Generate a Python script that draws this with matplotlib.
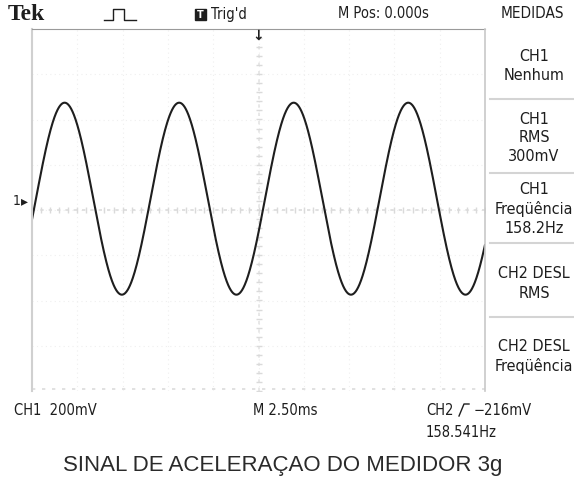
import numpy as np
import matplotlib
matplotlib.use("Agg")
import matplotlib.pyplot as plt
from matplotlib.lines import Line2D
from matplotlib.patches import Rectangle
from matplotlib import font_manager

# scope settings and measurements
ch1_volts_div = 0.200      # V/div
time_div = 2.50            # ms/div
ch1_position = 0.25        # div above the centre line
ch1_freq = 158.2           # Hz
ch1_rms = 0.300            # V
t_first_peak = -10.70      # ms, first crest on the screen
n_div_x, n_div_y = 10, 8

menu_boxes = [
    (["CH1", "Nenhum"], [57, 76]),
    (["CH1", "RMS", "300mV"], [119, 138, 157]),
    (["CH1", "Freqüência", "158.2Hz"], [190, 209, 229]),
    (["CH2 DESL", "RMS"], [274, 294]),
    (["CH2 DESL", "Freqüência"], [347, 366]),
]
menu_lines = [100, 174, 244, 318]

W, H = 574, 481
fig = plt.figure(figsize=(W / 100, H / 100), dpi=100)
fig.patch.set_facecolor("white")

def px(x, y):
    return x / W, 1 - y / H

names = {f.name for f in font_manager.fontManager.ttflist}
narrow = ["Liberation Sans Narrow"] if "Liberation Sans Narrow" in names else ["DejaVu Sans"]
narrow = narrow + ["DejaVu Sans", "Noto Sans CJK JP"]
ink = "#1e1e1e"

def label(x, y, s, size=10.5, **kw):
    kw.setdefault("va", "center")
    return fig.text(*px(x, y), s, fontsize=size, family=narrow,
                    fontstretch="condensed", color=ink, **kw)

def fig_line(xs, ys, **kw):
    fig.add_artist(Line2D([x / W for x in xs], [1 - y / H for y in ys], **kw))

# screen area
x0, y0, x1, y1 = 32, 30, 485, 392
ax = fig.add_axes([x0 / W, 1 - y1 / H, (x1 - x0) / W, (y1 - y0) / H])
ax.set_xlim(-n_div_x / 2 * time_div, n_div_x / 2 * time_div)
ax.set_ylim(-n_div_y / 2, n_div_y / 2)
ax.set_xticks([]); ax.set_yticks([])
for s in ax.spines.values():
    s.set_visible(False)
ax.spines["top"].set_visible(True)
ax.spines["top"].set_color("#9a9a9a")
ax.spines["left"].set_visible(True)
ax.spines["left"].set_color("#d0d0d0")
ax.spines["left"].set_linewidth(1.5)

# graticule
for i in range(1, n_div_x):
    xg = (i - n_div_x / 2) * time_div
    ax.axvline(xg, color="#efefef", lw=0.8, ls=(0, (1, 3)))
for j in range(1, n_div_y):
    ax.axhline(j - n_div_y / 2, color="#efefef", lw=0.8, ls=(0, (1, 3)))
ax.axhline(0, color="#dcdcdc", lw=1.2, ls=(0, (2, 3)))
ax.axvline(0, color="#e4e4e4", lw=1.2, ls=(0, (2, 3)))
ax.axhline(-n_div_y / 2 + 0.05, color="#dcdcdc", lw=1.2, ls=(0, (2, 4)))
tk = np.arange(-n_div_x / 2, n_div_x / 2 + 0.01, 0.2) * time_div
ax.plot(tk, np.full_like(tk, 0.0), ls="none", marker="|", ms=4, color="#dadada")
tky = np.arange(-n_div_y / 2, n_div_y / 2 + 0.01, 0.2)
ax.plot(np.zeros_like(tky), tky, ls="none", marker="_", ms=4, color="#dadada")

# CH1 trace
t = np.linspace(-n_div_x / 2 * time_div, n_div_x / 2 * time_div, 2000)
v = np.sqrt(2) * ch1_rms * np.cos(2 * np.pi * ch1_freq * (t - t_first_peak) / 1000)
ax.plot(t, v / ch1_volts_div + ch1_position, color=ink, lw=1.5, solid_capstyle="round")

# CH1 ground marker and trigger position
label(13, 201, "1", size=10)
fig.text(*px(21, 201), "▸", fontsize=10, color=ink, va="center")
fig.text(*px(258, 36), "↓", fontsize=10, fontweight="bold", color=ink,
         ha="center", va="center")

# top status line
fig.text(*px(8, 14), "Tek", fontsize=17, fontweight="bold", family="Liberation Serif",
         color=ink, va="center")
fig_line([104, 113, 113, 124, 124, 136], [21, 21, 10, 10, 21, 21], color=ink, lw=1.0)
fig.add_artist(Rectangle(px(195, 21), 11 / W, 11 / H, color=ink))
fig.text(*px(200.5, 15.5), "T", fontsize=7, fontweight="bold", color="white",
         ha="center", va="center")
label(211, 14, "Trig'd")
label(338, 14, "M Pos: 0.000s")
label(501, 14, "MEDIDAS", size=11)

# measurement menu
fig_line([485, 485], [30, 392], color="#c8c8c8", lw=1.2)
for yl in menu_lines:
    fig_line([490, W], [yl, yl], color="#d4d4d4", lw=1.5)
for texts, ys in menu_boxes:
    for txt, yy in zip(texts, ys):
        label(534, yy, txt, size=11.5, ha="center")

# bottom status line
label(14, 411, "CH1  200mV")
label(253, 411, "M 2.50ms")
label(426, 411, "CH2")
fig_line([459, 464, 469], [417, 405, 405], color=ink, lw=1.0)   # rising-edge slope
label(474, 411, "−216mV")
label(426, 433, "158.541Hz")

fig.text(*px(283, 466), "SINAL DE ACELERAÇAO DO MEDIDOR 3g", fontsize=16,
         family="Liberation Sans", color="#2a2a2a", ha="center", va="center")

fig.savefig("out.png", dpi=100)
